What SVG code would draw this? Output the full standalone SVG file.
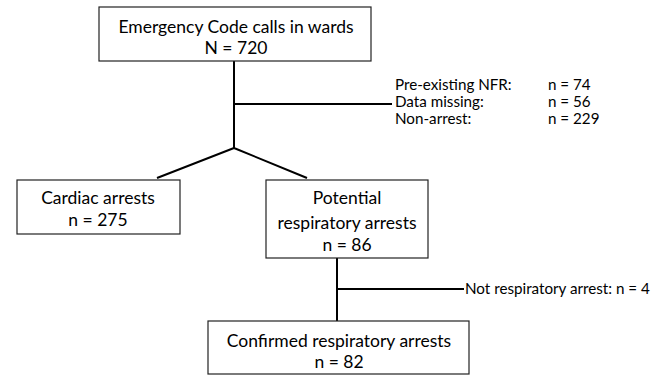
<svg xmlns="http://www.w3.org/2000/svg" width="670" height="376" viewBox="0 0 670 376">
<style>
.box{fill:#fff;stroke:#222;stroke-width:1.2}
.t{font-family:Lato,"Liberation Sans",sans-serif;font-size:17.5px;fill:#000;text-anchor:middle}
.s{font-family:Lato,"Liberation Sans",sans-serif;font-size:15.2px;fill:#000}
.c{stroke:#000;stroke-width:2;fill:none}
</style>
<rect width="670" height="376" fill="#fff"/>
<g id="connectors">
<path class="c" d="M234 61V148M234 104H392M234 148L157 178M234 148L307 178"/>
<path class="c" d="M337 258V321M337 289H464"/>
</g>
<g id="top">
<rect class="box" x="99" y="7" width="272" height="54"/>
<text class="t" x="236" y="33">Emergency Code calls in wards</text>
<text class="t" x="236" y="54">N = 720</text>
</g>
<g id="excluded">
<text class="s" x="395" y="90">Pre-existing NFR:</text>
<text class="s" x="548" y="90">n = 74</text>
<text class="s" x="395" y="107">Data missing:</text>
<text class="s" x="548" y="107">n = 56</text>
<text class="s" x="395" y="124">Non-arrest:</text>
<text class="s" x="548" y="124">n = 229</text>
</g>
<g id="cardiac">
<rect class="box" x="17" y="180" width="163" height="54"/>
<text class="t" x="98" y="204">Cardiac arrests</text>
<text class="t" x="98" y="226">n = 275</text>
</g>
<g id="potential">
<rect class="box" x="266" y="180" width="162" height="78"/>
<text class="t" x="347" y="204">Potential</text>
<text class="t" x="347" y="229">respiratory arrests</text>
<text class="t" x="347" y="251">n = 86</text>
</g>
<g id="notresp">
<text class="s" x="465" y="294">Not respiratory arrest: n = 4</text>
</g>
<g id="confirmed">
<rect class="box" x="208" y="321" width="261" height="53"/>
<text class="t" x="339" y="347">Confirmed respiratory arrests</text>
<text class="t" x="339" y="368">n = 82</text>
</g>
</svg>
